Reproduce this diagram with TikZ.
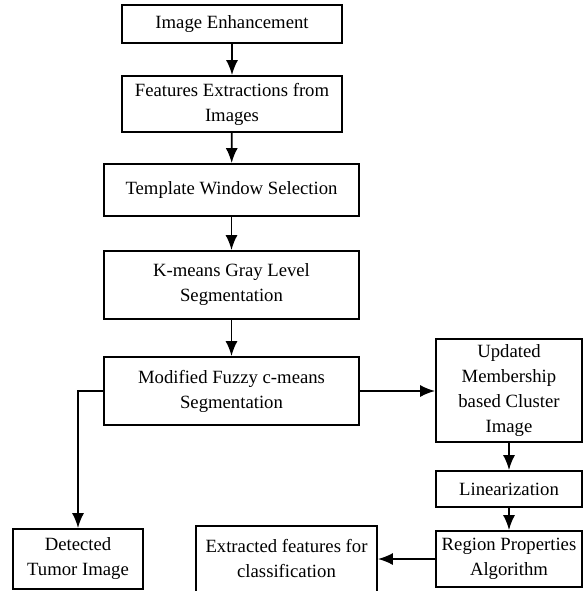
\documentclass[tikz,border=0pt]{standalone}
\usepackage{fontspec}
\setmainfont{Liberation Serif}
\usetikzlibrary{arrows.meta}

\begin{document}
\begin{tikzpicture}[x=1pt, y=-1pt, >={Latex[length=15pt,width=12pt]}, line width=1.8pt,
	block/.style={draw, align=center, inner sep=0pt, font=\fontsize{18.7}{25}\selectfont}]
	\clip (0,0) rectangle (583,591);
	%colonna centrale
	\node [block, minimum width=220, minimum height=38] (enh) at (232,24) {Image Enhancement};
	\node [block, minimum width=220, minimum height=56] (feat) at (232,104) {Features Extractions from\\Images};
	\node [block, minimum width=255, minimum height=52] (tmpl) at (231.5,190) {Template Window Selection};
	\node [block, minimum width=255, minimum height=68] (kmeans) at (231.5,285) {K-means Gray Level\\Segmentation};
	\node [block, minimum width=255, minimum height=68] (fuzzy) at (231.5,391) {Modified Fuzzy c-means\\Segmentation};
	%colonna destra
	\node [block, minimum width=146, minimum height=103] (upd) at (509,390.5) {Updated\\Membership\\based Cluster\\Image};
	\node [block, minimum width=146, minimum height=36] (lin) at (509,489) {Linearization};
	\node [block, minimum width=146, minimum height=56] (reg) at (509,559) {Region Properties\\Algorithm};
	%riga in basso
	\node [block, minimum width=181, minimum height=66] (extr) at (286.5,559) {Extracted features for\\classification};
	\node [block, minimum width=130, minimum height=60] (det) at (78,559) {Detected\\Tumor Image};
	%frecce
	\draw [->] (enh) -- (feat);
	\draw [->] (feat) -- (tmpl);
	\draw [->] (tmpl) -- (kmeans);
	\draw [->] (kmeans) -- (fuzzy);
	\draw [->] (fuzzy.east) -- (upd.west |- fuzzy.east);
	\draw [->] (fuzzy.west) -| (det.north);
	\draw [->] (upd) -- (lin);
	\draw [->] (lin) -- (reg);
	\draw [->] (reg.west) -- (extr.east |- reg.west);
\end{tikzpicture}
\end{document}
